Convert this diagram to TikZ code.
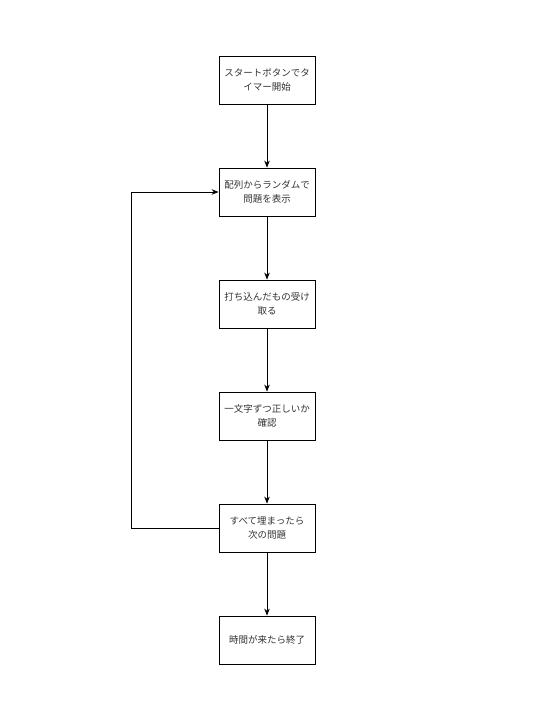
\documentclass[tikz,border=0pt]{standalone}
\usepackage{fontspec}
\setmainfont{Noto Sans CJK JP}
\usetikzlibrary{arrows.meta, positioning}
\definecolor{flow-text}{RGB}{51,51,51}

\begin{document}
\begin{tikzpicture}[
  x=1pt, y=-1pt,
  flowbox/.style={draw, line width=0.8pt, minimum width=96pt, minimum height=48pt, align=center, text=flow-text, font=\fontsize{9.5}{14}\selectfont, inner sep=2pt},
  flowarrow/.style={-{Stealth[length=7pt, width=5.5pt]}, line width=0.8pt},
]
  \useasboundingbox (0,0) rectangle (547,728);

  % Steps
  \node[flowbox] (start) at (267,80) {スタートボタンでタ\\イマー開始};
  \node[flowbox] (show) at (267,192) {配列からランダムで\\問題を表示};
  \node[flowbox] (input) at (267,304) {打ち込んだもの受け\\取る};
  \node[flowbox] (check) at (267,416) {一文字ずつ正しいか\\確認};
  \node[flowbox] (next) at (267,528) {すべて埋まったら\\次の問題};
  \node[flowbox] (finish) at (267,640) {時間が来たら終了};

  % Arrows
  \draw[flowarrow] (start) -- (show);
  \draw[flowarrow] (show) -- (input);
  \draw[flowarrow] (input) -- (check);
  \draw[flowarrow] (check) -- (next);
  \draw[flowarrow] (next) -- (finish);

  % Loop back
  \coordinate (loop) at (131,528);
  \draw[flowarrow] (next.west) -- (loop) |- (show.west);
\end{tikzpicture}
\end{document}
